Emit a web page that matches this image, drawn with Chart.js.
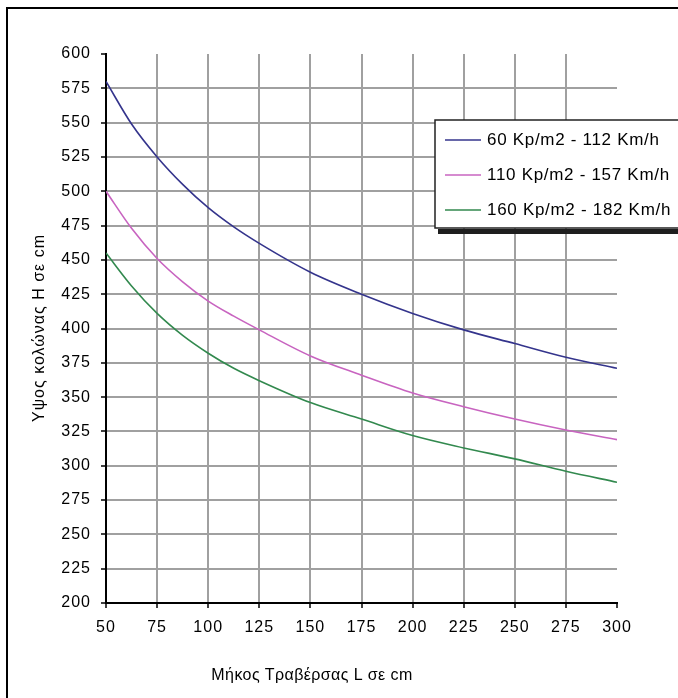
<!DOCTYPE html>
<html lang="el">
<head>
<meta charset="UTF-8">
<title>Ύψος κολώνας</title>
<script src="https://cdn.jsdelivr.net/npm/chart.js@4/dist/chart.umd.min.js"></script>
<style>
  html, body { margin: 0; padding: 0; background: #fff; }
  #wrap { width: 678px; height: 698px; }
</style>
</head>
<body>
<div id="wrap"><canvas id="myChart" width="678" height="698"></canvas></div>
<script>
// data
const lengths = [50, 62.5, 75, 87.5, 100, 112.5, 125, 150, 175, 200, 225, 250, 275, 300];
const h60  = [580, 549, 525, 505, 488, 474, 462, 441, 425, 411, 399, 389, 379, 371];
const h110 = [500, 473, 451, 434, 420, 409, 399, 380, 366, 353, 343, 334, 326, 319];
const h160 = [455, 431, 411, 395, 382, 371, 362, 346, 334, 322, 313, 305, 296, 288];
const labels = ['60 Kp/m2 - 112 Km/h', '110 Kp/m2 - 157 Km/h', '160 Kp/m2 - 182 Km/h'];
const colors = ['#34348c', '#c864c0', '#32894e'];
const xTitle = 'Μήκος Τραβέρσας L σε cm';
const yTitle = 'Υψος κολώνας Η σε cm';

const FONT = '"Liberation Sans", Arial, sans-serif';
const pts = (ys) => lengths.map((x, i) => ({ x: x, y: ys[i] }));

// wider lettering, like the original
const spacing = {
  id: 'spacing',
  beforeDraw(chart) { chart.ctx.letterSpacing = '1px'; },
  afterDatasetsDraw(chart) { chart.ctx.letterSpacing = '0px'; }
};

// frame, legend box and axis titles
const extras = {
  id: 'extras',
  beforeDraw(chart) {
    const c = chart.ctx;
    c.save();
    c.fillStyle = '#fff';
    c.fillRect(0, 0, chart.width, chart.height);
    c.strokeStyle = '#000';
    c.lineWidth = 2;
    c.beginPath();
    c.moveTo(7, chart.height + 5);
    c.lineTo(7, 8);
    c.lineTo(chart.width + 5, 8);
    c.stroke();
    c.restore();
  },
  afterDraw(chart) {
    const c = chart.ctx;
    c.save();
    // legend with shadow
    c.fillStyle = '#1e1e1e';
    c.fillRect(438, 229, 260, 5);
    c.fillStyle = '#fff';
    c.fillRect(435, 120, 260, 108);
    c.strokeStyle = '#222';
    c.lineWidth = 1.5;
    c.strokeRect(435, 120, 260, 108);
    c.font = '17px ' + FONT;
    c.letterSpacing = '0.7px';
    c.textBaseline = 'middle';
    chart.data.datasets.forEach((ds, i) => {
      const y = 140 + i * 35;
      c.strokeStyle = ds.borderColor;
      c.lineWidth = 1.5;
      c.beginPath();
      c.moveTo(445, y);
      c.lineTo(481, y);
      c.stroke();
      c.fillStyle = '#000';
      c.fillText(ds.label, 487, y);
    });
    // axis titles
    c.font = '16px ' + FONT;
    c.fillStyle = '#000';
    c.textAlign = 'center';
    c.letterSpacing = '0.4px';
    c.fillText(xTitle, 312, 676);
    c.letterSpacing = '1px';
    c.translate(40, 328);
    c.rotate(-Math.PI / 2);
    c.fillText(yTitle, 0, 0);
    c.restore();
  }
};

const gridCol = (edgeVals) => (ctx) =>
  (ctx.tick && edgeVals.includes(ctx.tick.value)) ? 'rgba(0,0,0,0)' : '#a0a0a0';

new Chart(document.getElementById('myChart'), {
  type: 'line',
  data: {
    datasets: [h60, h110, h160].map((ys, i) => ({
      label: labels[i],
      data: pts(ys),
      borderColor: colors[i],
      borderWidth: 1.6,
      pointRadius: 0,
      cubicInterpolationMode: 'monotone',
      fill: false
    }))
  },
  options: {
    responsive: false,
    animation: false,
    layout: { padding: { left: 0, top: 54, right: 61, bottom: 0 } },
    scales: {
      x: {
        type: 'linear',
        min: 50,
        max: 300,
        afterFit: (s) => { s.height = 95; },
        ticks: { stepSize: 25, padding: 10, color: '#000', font: { size: 16, family: FONT } },
        grid: { color: gridCol([50, 300]), lineWidth: 2, tickColor: '#000', tickWidth: 1.5, tickLength: 5 },
        border: { color: '#000', width: 2 }
      },
      y: {
        min: 200,
        max: 600,
        afterFit: (s) => { s.width = 106; },
        ticks: { stepSize: 25, padding: 10, color: '#000', font: { size: 16, family: FONT } },
        grid: { color: gridCol([200, 600]), lineWidth: 2, tickColor: '#000', tickWidth: 1.5, tickLength: 5 },
        border: { color: '#000', width: 2 }
      }
    },
    plugins: {
      legend: { display: false },
      tooltip: { enabled: false }
    }
  },
  plugins: [spacing, extras]
});
</script>
</body>
</html>
